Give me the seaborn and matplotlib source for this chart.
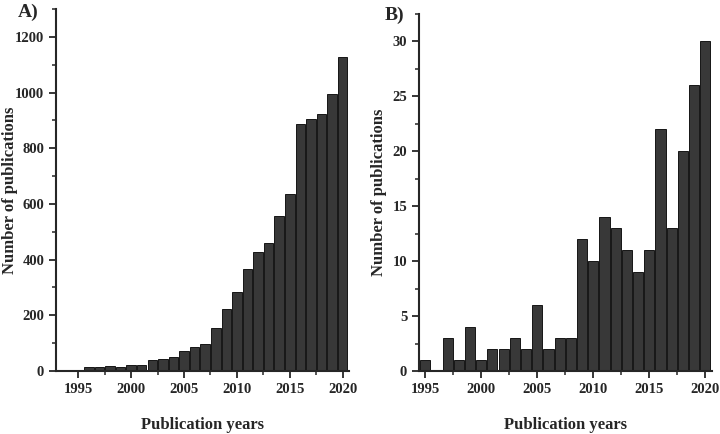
#!/usr/bin/env python3
# Publications per year, two panels (A: all, B: subset)

import matplotlib
matplotlib.use("Agg")
import matplotlib.pyplot as plt
from matplotlib.ticker import MultipleLocator
import seaborn as sns

# Panel A data
years_a = list(range(1993, 2021))
pubs_a = [1, 1, 5, 13, 16, 18, 16, 22, 23, 38, 43, 51, 73, 85, 98, 156,
          222, 283, 366, 427, 461, 556, 634, 887, 904, 922, 996, 1126]

# Panel B data
years_b = list(range(1995, 2021))
pubs_b = [1, 0, 3, 1, 4, 1, 2, 2, 3, 2, 6, 2, 3, 3, 12, 10, 14, 13, 11, 9,
          11, 22, 13, 20, 26, 30]

sns.set_style("ticks")
plt.rcParams['font.family'] = ['Liberation Serif', 'DejaVu Serif']
plt.rcParams['font.weight'] = 'bold'

fig = plt.figure(figsize=(7.2, 4.34), dpi=100)
ax1 = fig.add_axes([0.0778, 0.1452, 0.407, 0.834])
ax2 = fig.add_axes([0.582, 0.1452, 0.407, 0.8226])

bar_kw = dict(color='#383838', edgecolor='black', linewidth=0.6,
              native_scale=True, width=0.9, saturation=1)

sns.barplot(x=years_a, y=pubs_a, ax=ax1, **bar_kw)
sns.barplot(x=years_b, y=pubs_b, ax=ax2, **bar_kw)

ax1.set_xlim(1992.9, 2020.6)
ax1.set_ylim(0, 1300)
ax1.yaxis.set_major_locator(MultipleLocator(200))
ax1.yaxis.set_minor_locator(MultipleLocator(100))

ax2.set_xlim(1994.45, 2020.6)
ax2.set_ylim(0, 32.5)
ax2.yaxis.set_major_locator(MultipleLocator(5))
ax2.yaxis.set_minor_locator(MultipleLocator(2.5))

for ax in (ax1, ax2):
    ax.xaxis.set_major_locator(MultipleLocator(5))
    ax.xaxis.set_minor_locator(MultipleLocator(2.5))
    sns.despine(ax=ax)
    for s in ('left', 'bottom'):
        ax.spines[s].set_linewidth(1.5)
    ax.tick_params(which='major', direction='out', length=5, width=1.3,
                   labelsize=10.5)
    ax.tick_params(which='minor', direction='out', length=3, width=1.1)
    for lbl in ax.get_xticklabels() + ax.get_yticklabels():
        lbl.set_fontweight('bold')
    ax.set_xlabel('Publication years', fontsize=12, fontweight='bold')
    ax.set_ylabel('Number of publications', fontsize=12, fontweight='bold')

ax1.yaxis.set_label_coords(-0.13, 0.5)
ax2.yaxis.set_label_coords(-0.11, 0.5)
ax1.xaxis.set_label_coords(0.5, -0.128)
ax2.xaxis.set_label_coords(0.5, -0.13)

fig.text(0.025, 0.972, 'A)', fontsize=14, fontweight='bold', va='center')
fig.text(0.534, 0.965, 'B)', fontsize=14, fontweight='bold', va='center')

plt.savefig('out.png', dpi=100)
